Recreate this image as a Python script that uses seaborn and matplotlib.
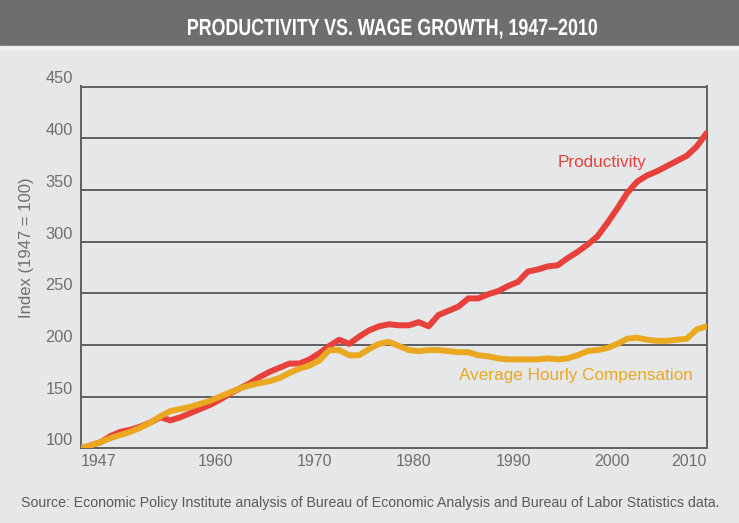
import pandas as pd
import seaborn as sns
import matplotlib.pyplot as plt
from matplotlib.textpath import TextPath
from matplotlib.patches import PathPatch
from matplotlib.font_manager import FontProperties
from matplotlib.transforms import Affine2D, IdentityTransform

years = list(range(1947, 2011))

productivity = [100, 103, 106, 112, 116, 118, 121, 125, 130, 127,
                130, 134, 138, 142, 147, 153, 158, 163, 169, 174,
                178, 182, 182, 186, 192, 199, 205, 201, 208, 214,
                218, 220, 219, 219, 222, 218, 229, 233, 237, 245,
                245, 249, 252, 257, 261, 271, 273, 276, 277, 284,
                290, 297, 305, 318, 332, 347, 358, 364, 368, 373,
                378, 383, 392, 405]

compensation = [100, 103, 106, 110, 113, 116, 120, 125, 131, 136,
                138, 140, 143, 146, 150, 154, 158, 161, 163, 165,
                168, 173, 177, 180, 185, 195, 195, 190, 190, 196,
                201, 203, 199, 195, 194, 195, 195, 194, 193, 193,
                190, 189, 187, 186, 186, 186, 186, 187, 186, 187,
                190, 194, 195, 197, 201, 206, 207, 205, 204, 204,
                205, 206, 215, 218]

series_names = ["Productivity", "Average Hourly Compensation"]
series_colors = ["#e8413c", "#e9a81f"]

tick_labels = ["1947", "1960", "1970", "1980", "1990", "2000", "2010"]
yticks = [100, 150, 200, 250, 300, 350, 400, 450]

title = "PRODUCTIVITY VS. WAGE GROWTH, 1947\u20132010"
source = ("Source: Economic Policy Institute analysis of Bureau of Economic "
          "Analysis and Bureau of Labor Statistics data.")

df = pd.DataFrame({
    "year": years * 2,
    "index": productivity + compensation,
    "series": [series_names[0]] * len(years) + [series_names[1]] * len(years),
})

W, H = 739, 523
bg = "#e6e7e8"
dark = "#5f6062"
text_gray = "#6d6e70"

sns.set_theme(style="white")
plt.rcParams["font.family"] = ["Liberation Sans", "DejaVu Sans"]

fig = plt.figure(figsize=(W / 100, H / 100), dpi=100, facecolor=bg)
ax = fig.add_axes([81 / W, 1 - 448.3 / H, 625.7 / W, 361.8 / H])
ax.set_facecolor(bg)

# title bar
fig.patches.append(plt.Rectangle((0, 1 - 46 / H), 1, 46 / H,
                                 transform=fig.transFigure, color="#6d6e70", zorder=0))
fig.patches.append(plt.Rectangle((0, 1 - 49 / H), 1, 3 / H,
                                 transform=fig.transFigure, color="#f0f0f1", zorder=0))

# condensed bold title: squeeze a normal bold text path horizontally
tp = TextPath((0, 0), title, size=23.3,
              prop=FontProperties(family="Liberation Sans", weight="bold"))
ext = tp.get_extents()
sx = 409 / ext.width
tr = (Affine2D().translate(-ext.x0, 0).scale(sx, 1)
      .translate(188, H - 35) + IdentityTransform())
fig.patches.append(PathPatch(tp, transform=tr, facecolor="white",
                             edgecolor="none", zorder=2))

sns.lineplot(data=df, x="year", y="index", hue="series", palette=series_colors,
             linewidth=4.3, legend=False, ax=ax, zorder=3)

ax.set_xlim(1947, 2010)
ax.set_ylim(100, 450)

# decade ticks sit half a year right of the decade in the original
tick_pos = [1947] + [int(t) + 0.5 for t in tick_labels[1:-1]] + [2010]
ax.set_xticks(tick_pos)
ax.set_xticklabels(tick_labels)
for lab, ha in zip(ax.get_xticklabels(), ["left"] + ["center"] * 5 + ["right"]):
    lab.set_ha(ha)
ax.tick_params(axis="x", direction="in", length=6, width=1.4, color=dark,
               labelsize=11.5, labelcolor=text_gray, pad=4)

ax.set_yticks(yticks)
ax.set_yticklabels([])
ax.tick_params(axis="y", length=0)
for v in yticks:
    ax.axhline(v, color=dark, lw=1.4, zorder=1)
    ax.text(-0.013, v, str(v), transform=ax.get_yaxis_transform(), ha="right",
            va="bottom", fontsize=11.8, color=text_gray)

for s in ax.spines.values():
    s.set_color(dark)
    s.set_linewidth(1.4)

ax.set_xlabel("")
ax.set_ylabel("")
fig.text(26.7 / W, 1 - 248 / H, "Index (1947 = 100)", rotation=90,
         ha="center", va="center", fontsize=12, color=text_gray)

ax.text(1995.0, 372, series_names[0], color=series_colors[0], fontsize=12.3,
        ha="left", va="baseline")
ax.text(1985.1, 166, series_names[1], color=series_colors[1], fontsize=12.3,
        ha="left", va="baseline")

fig.text(20.7 / W, 1 - 503 / H, source, ha="left", va="center",
         fontsize=10.2, color="#58595b")

fig.savefig("out.png", dpi=100, facecolor=bg)
